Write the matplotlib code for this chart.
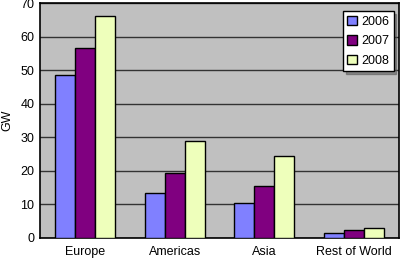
import numpy as np
import matplotlib.pyplot as plt

regions = ['Europe', 'Americas', 'Asia', 'Rest of World']
years = ['2006', '2007', '2008']
gw_2006 = [48.5, 13.5, 10.4, 1.6]
gw_2007 = [56.7, 19.4, 15.6, 2.4]
gw_2008 = [66.0, 29.0, 24.4, 3.0]

colors = ['#8080ff', '#800080', '#eeffbb']

plt.rcParams['font.family'] = ['Liberation Sans', 'DejaVu Sans']
plt.rcParams['font.size'] = 9

fig = plt.figure(figsize=(4, 2.59), dpi=100)
ax = fig.add_axes([40 / 400, 21 / 259, 359 / 400, 235 / 259])
ax.set_facecolor('#c0c0c0')

x = np.arange(len(regions))
w = 0.223
for i, (vals, c, yr) in enumerate(zip([gw_2006, gw_2007, gw_2008], colors, years)):
    ax.bar(x + (i - 1) * w, vals, width=w, color=c, edgecolor='black',
           linewidth=1, label=yr, zorder=3)

ax.set_xlim(-0.5, 3.5)
ax.set_ylim(0, 70)
ax.set_yticks(range(0, 71, 10))
ax.yaxis.grid(True, color='#333333', linewidth=1, zorder=0)
ax.set_xticks(x)
ax.set_xticklabels(regions)
ax.tick_params(axis='x', length=0, pad=6)
ax.tick_params(axis='y', length=0, pad=4)
for s in ax.spines.values():
    s.set_color('black')
    s.set_linewidth(1.2)
ax.set_ylabel('GW')
ax.yaxis.set_label_coords(-0.075, 0.5)

leg = ax.legend(loc='upper right', bbox_to_anchor=(0.985, 0.965), frameon=True,
                fancybox=False, shadow=True, handlelength=0.8, handleheight=0.8,
                handletextpad=0.3, borderpad=0.35, labelspacing=0.6,
                borderaxespad=0)
leg.get_frame().set_edgecolor('black')
leg.get_frame().set_facecolor('white')
leg.get_frame().set_alpha(1)

plt.savefig('out.png', dpi=100)
